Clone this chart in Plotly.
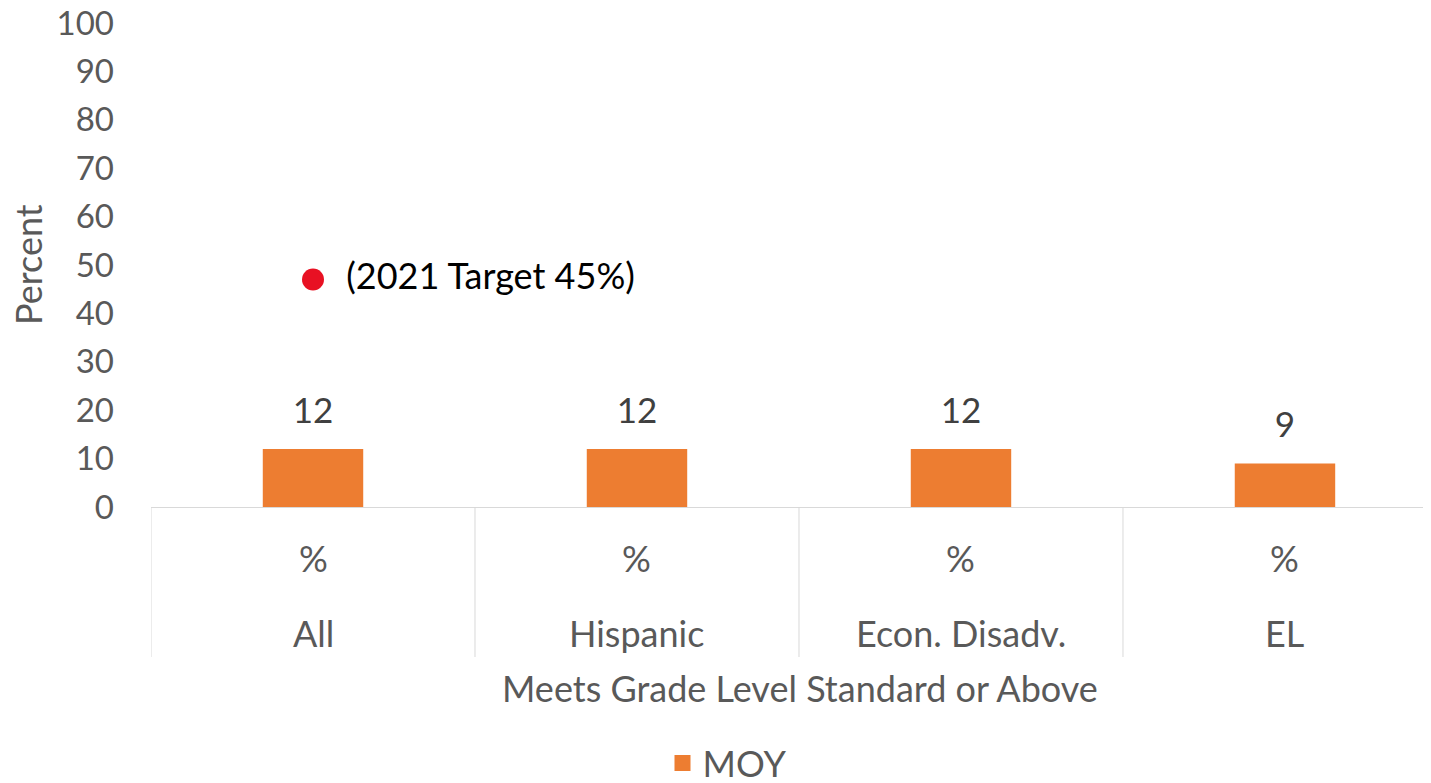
import plotly.graph_objects as go

groups = ["All", "Hispanic", "Econ. Disadv.", "EL"]
sub_labels = ["%", "%", "%", "%"]
moy_values = [12, 12, 12, 9]
target_group = ["All"]
target_value = [47]
target_label = "(2021 Target 45%)"
y_ticks = [0, 10, 20, 30, 40, 50, 60, 70, 80, 90, 100]

W, H = 1431, 783
FONT = "Lato"
GRAY = "#595959"
TXT = 36
NUM = 33

def py(px):
    return (H - px) / H

def px_x(px):
    return px / W

fig = go.Figure()
fig.add_trace(go.Bar(
    x=groups, y=moy_values, name="MOY",
    marker=dict(color="#ED7D31", line=dict(width=0)),
    width=0.31, showlegend=False, hoverinfo="x+y",
))
# data labels above the bars
fig.add_trace(go.Scatter(
    x=groups, y=moy_values, mode="markers+text",
    marker=dict(size=26, opacity=0),
    text=[str(v) for v in moy_values], textposition="top center",
    textfont=dict(size=35, color="#404040", family=FONT),
    showlegend=False, cliponaxis=False, hoverinfo="skip",
))
# legend entry for the bar series (larger square swatch)
fig.add_trace(go.Scatter(
    x=[None], y=[None], mode="markers", name="MOY",
    marker=dict(color="#ED7D31", symbol="square", size=20),
    showlegend=True,
))
fig.add_trace(go.Scatter(
    x=target_group, y=target_value, mode="markers+text",
    marker=dict(color="#E81123", size=22),
    text=["  " + target_label], textposition="middle right",
    textfont=dict(size=TXT, color="#000000", family=FONT),
    showlegend=False, cliponaxis=False,
))

annotations = []
for g, s in zip(groups, sub_labels):
    annotations.append(dict(x=g, y=py(558), xref="x", yref="paper", text=s,
                            showarrow=False, font=dict(size=TXT, color=GRAY, family=FONT),
                            xanchor="center", yanchor="middle"))
    annotations.append(dict(x=g, y=py(633), xref="x", yref="paper", text=g,
                            showarrow=False, font=dict(size=TXT, color=GRAY, family=FONT),
                            xanchor="center", yanchor="middle"))
annotations.append(dict(x=px_x(800), y=py(688), xref="paper", yref="paper",
                        text="Meets Grade Level Standard or Above", showarrow=False,
                        font=dict(size=TXT, color=GRAY, family=FONT),
                        xanchor="center", yanchor="middle"))
annotations.append(dict(x=px_x(28), y=py(265), xref="paper", yref="paper",
                        text="Percent", showarrow=False, textangle=-90,
                        font=dict(size=TXT, color=GRAY, family=FONT),
                        xanchor="center", yanchor="middle"))

shapes = []
for i in range(len(groups) + 1):
    shapes.append(dict(type="line", xref="x", yref="paper",
                       x0=i - 0.5, x1=i - 0.5, y0=py(507), y1=py(657),
                       line=dict(color="#D9D9D9", width=1)))

fig.update_layout(
    width=W, height=H,
    margin=dict(l=0, r=0, t=0, b=0, autoexpand=False),
    paper_bgcolor="white", plot_bgcolor="white",
    font=dict(family=FONT, color=GRAY),
    xaxis=dict(domain=[px_x(151), px_x(1423)], range=[-0.5, 3.426], automargin=False,
               showticklabels=False, ticks="", showgrid=False, zeroline=False,
               showline=True, linecolor="#D9D9D9", linewidth=1),
    yaxis=dict(domain=[py(507), py(23)], range=[0, 100], tickvals=y_ticks, automargin=False,
               tickfont=dict(size=NUM, color=GRAY, family=FONT),
               showgrid=False, zeroline=False, showline=False, ticks="",
               ticklabelstandoff=36, ticklabeloverflow="allow"),
    showlegend=True,
    legend=dict(orientation="h", x=px_x(727), xanchor="center", y=py(763), yanchor="middle",
                font=dict(size=TXT, color=GRAY, family=FONT), itemwidth=30),
    annotations=annotations, shapes=shapes,
)
# remove the default 8px page margin so the figure fills the window exactly
fig.write_html("out.html", config={"displayModeBar": False},
               post_script="document.body.style.margin='0px';")
